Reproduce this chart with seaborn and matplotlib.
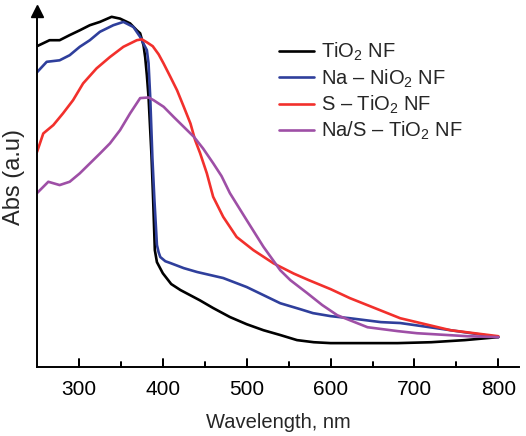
import numpy as np
import pandas as pd
import matplotlib.pyplot as plt
import matplotlib.lines as mlines
import matplotlib.transforms as mtransforms
import seaborn as sns

# === datos (Abs en unidades arbitrarias) ===
wl_tio2 = [250, 265, 277, 289, 301, 313, 325, 339, 349, 361, 369, 373, 377, 379, 381,
           383, 385, 386.5, 388.5, 390.5, 393, 400, 410, 421, 444, 460, 480, 500, 520,
           540, 560, 580, 600, 640, 680, 720, 760, 800]
abs_tio2 = [1.07, 1.09, 1.09, 1.107, 1.123, 1.14, 1.151, 1.168, 1.162, 1.146, 1.123, 1.113,
            1.073, 1.033, 0.973, 0.90, 0.79, 0.707, 0.557, 0.39, 0.35, 0.313, 0.277, 0.257,
            0.223, 0.197, 0.167, 0.143, 0.123, 0.107, 0.09, 0.083, 0.08, 0.08, 0.08, 0.083,
            0.09, 0.10]

wl_na = [250, 261.6, 277, 289, 301, 313, 325, 341, 353, 365, 373, 378, 381, 383, 385,
         387.6, 390, 393, 395, 397, 403, 409, 425, 441, 472, 500, 520, 540, 564, 579,
         600, 623, 660, 683, 743, 800]
abs_na = [0.983, 1.018, 1.023, 1.04, 1.068, 1.09, 1.118, 1.14, 1.151, 1.134, 1.101, 1.073,
          1.057, 1.013, 0.90, 0.697, 0.557, 0.407, 0.383, 0.367, 0.353, 0.347, 0.33, 0.317,
          0.297, 0.267, 0.24, 0.213, 0.193, 0.18, 0.17, 0.163, 0.15, 0.147, 0.123, 0.10]

wl_s = [250, 257.5, 269.5, 281, 293, 305, 321, 337, 353, 369, 375, 381, 388, 395, 401, 409,
        417, 425, 433, 438.5, 444.5, 452.5, 460, 472, 488, 508, 532, 556, 574, 600, 623,
        683, 743, 800]
abs_s = [0.717, 0.779, 0.807, 0.846, 0.89, 0.946, 0.996, 1.034, 1.068, 1.09, 1.093, 1.083,
         1.07, 1.043, 1.012, 0.968, 0.923, 0.868, 0.812, 0.757, 0.713, 0.646, 0.568, 0.501,
         0.434, 0.39, 0.346, 0.312, 0.29, 0.26, 0.23, 0.163, 0.123, 0.103]

wl_nas = [250, 263.5, 277, 289, 301, 313, 325, 337, 349, 361, 373, 383, 389, 401, 413,
          425, 437, 448, 460, 470, 480, 500, 520, 540, 552, 572, 590, 608, 644, 680,
          703, 763, 800]
abs_nas = [0.58, 0.618, 0.607, 0.618, 0.646, 0.679, 0.712, 0.746, 0.79, 0.846, 0.897, 0.899,
           0.89, 0.868, 0.834, 0.801, 0.768, 0.729, 0.68, 0.637, 0.58, 0.49, 0.401, 0.323,
           0.29, 0.247, 0.207, 0.173, 0.133, 0.12, 0.113, 0.103, 0.10]

etiquetas = ["TiO$_2$ NF", "Na – NiO$_2$ NF", "S – TiO$_2$ NF", "Na/S – TiO$_2$ NF"]
colores = ["#000000", "#2f3f9c", "#f2302c", "#9e4fa6"]
ticks_mayores = [300, 400, 500, 600, 700, 800]
ticks_menores = [350, 450, 550, 650, 750]

df = pd.concat([
    pd.DataFrame({"wl": wl_tio2, "abs": abs_tio2, "muestra": etiquetas[0]}),
    pd.DataFrame({"wl": wl_na, "abs": abs_na, "muestra": etiquetas[1]}),
    pd.DataFrame({"wl": wl_s, "abs": abs_s, "muestra": etiquetas[2]}),
    pd.DataFrame({"wl": wl_nas, "abs": abs_nas, "muestra": etiquetas[3]}),
])

# === estilo ===
sns.set_style("ticks")
plt.rcParams.update({
    "font.family": ["Liberation Sans", "DejaVu Sans"],
    "mathtext.fontset": "custom",
    "mathtext.rm": "Liberation Sans",
    "mathtext.it": "Liberation Sans:italic",
    "xtick.direction": "in",
    "xtick.major.size": 6,
    "xtick.minor.size": 3.5,
    "xtick.major.width": 1.3,
    "xtick.minor.width": 1.3,
    "xtick.major.pad": 9,
    "xtick.labelsize": 15,
    "xtick.color": "black",
    "axes.linewidth": 1.4,
    "axes.edgecolor": "black",
    "axes.spines.top": False,
    "axes.spines.right": False,
})

fig = plt.figure(figsize=(5.26, 4.36), dpi=100)
ax = fig.add_axes([0.0703, 0.158, 0.917, 0.8165])

sns.lineplot(data=df, x="wl", y="abs", hue="muestra", hue_order=etiquetas,
             palette=colores, estimator=None, sort=True, linewidth=1.9, ax=ax)

ax.set_xlim(250, 825)
ax.set_ylim(0, 1.187)
ax.set_xticks(ticks_mayores)
ax.set_xticks(ticks_menores, minor=True)
ax.set_yticks([])

# marcas de los ticks hacia dentro, añadidas a nivel de figura por encima de todo
trans = mtransforms.blended_transform_factory(ax.transData, ax.transAxes)
for xt in ticks_mayores:
    fig.add_artist(mlines.Line2D([xt, xt], [0, 0.024], transform=trans, color="black",
                                 linewidth=1.4, zorder=20))
for xt in ticks_menores:
    fig.add_artist(mlines.Line2D([xt, xt], [0, 0.014], transform=trans, color="black",
                                 linewidth=1.4, zorder=20))

# flecha en la parte superior del eje y
ax.plot(0, 1, marker="^", color="black", markersize=8, transform=ax.transAxes, clip_on=False)

ax.set_xlabel("Wavelength, nm", fontsize=14.5, labelpad=10)
ax.set_ylabel("Abs (a.u)", fontsize=17)
ax.yaxis.set_label_coords(-0.024, 0.534)

ax.legend(loc="upper left", bbox_to_anchor=(0.502, 0.916), frameon=False, fontsize=14.5,
          handlelength=1.75, handletextpad=0.35, labelspacing=0.2, borderpad=0, borderaxespad=0)

plt.savefig("out.png", dpi=100)
plt.close()
